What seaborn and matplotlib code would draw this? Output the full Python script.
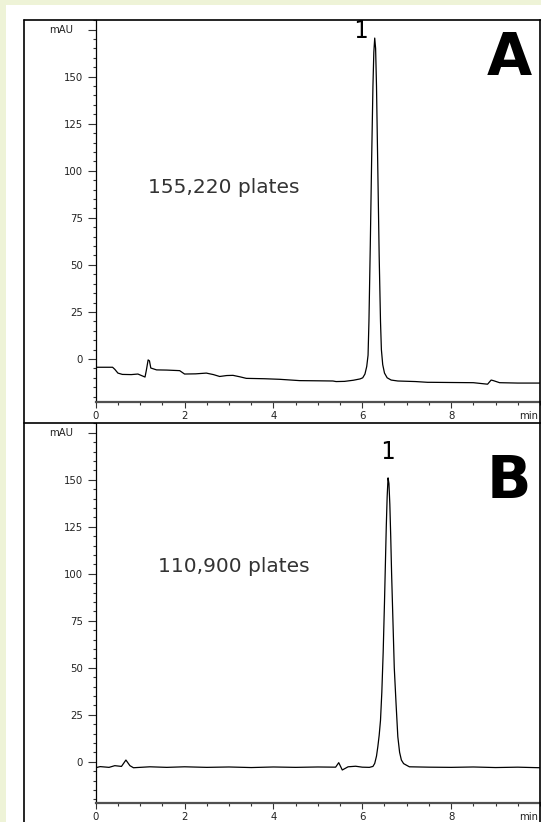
import matplotlib
matplotlib.use("Agg")
import matplotlib.pyplot as plt
import seaborn as sns
import pandas as pd
from matplotlib.ticker import MultipleLocator, FixedLocator, FuncFormatter
from matplotlib.patches import Rectangle
from matplotlib.lines import Line2D

# ---------------- data ----------------
time_a = [0.00, 0.38, 0.43, 0.50, 0.60, 0.80, 0.95, 1.11, 1.14, 1.18, 1.21, 1.24,
          1.37, 1.60, 1.89, 2.00, 2.25, 2.49, 2.65, 2.79, 2.95, 3.09, 3.25, 3.39,
          3.80, 4.14, 4.59, 5.00, 5.34, 5.41, 5.60, 5.80, 5.95, 6.01, 6.06, 6.10,
          6.13, 6.15, 6.18, 6.21, 6.24, 6.26, 6.28, 6.30, 6.32, 6.35, 6.38, 6.41,
          6.43, 6.46, 6.50, 6.56, 6.65, 6.80, 7.20, 7.47, 7.55, 8.00, 8.50, 8.82,
          8.90, 8.95, 9.09, 9.50, 10.00]
signal_a = [-4.4, -4.4, -5.5, -7.5, -8.2, -8.3, -8.0, -9.6, -6.0, -0.5, -1.0, -4.8,
            -5.8, -5.9, -6.2, -8.0, -7.9, -7.5, -8.3, -9.3, -8.8, -8.7, -9.5, -10.3,
            -10.5, -10.8, -11.5, -11.6, -11.7, -12.0, -11.9, -11.3, -10.6, -10.0, -8.0, -4.0,
            2.0, 20.0, 60.0, 105.0, 145.0, 163.0, 170.5, 165.0, 145.0, 100.0, 55.0, 20.0,
            5.0, -3.0, -7.5, -10.0, -11.2, -11.7, -12.0, -12.4, -12.4, -12.5, -12.6, -13.4,
            -11.2, -11.5, -12.6, -12.8, -12.8]

time_b = [0.00, 0.10, 0.30, 0.43, 0.58, 0.68, 0.77, 0.85, 1.22, 1.60, 2.00, 2.50,
          3.00, 3.50, 4.00, 4.50, 5.00, 5.40, 5.47, 5.55, 5.68, 5.85, 6.00, 6.16,
          6.24, 6.28, 6.32, 6.35, 6.38, 6.41, 6.44, 6.47, 6.50, 6.52, 6.54, 6.56,
          6.58, 6.60, 6.62, 6.64, 6.66, 6.69, 6.72, 6.76, 6.80, 6.84, 6.88, 6.93,
          6.99, 7.06, 7.50, 8.00, 8.50, 9.00, 9.50, 10.00]
signal_b = [-3.2, -2.6, -3.0, -2.1, -2.5, 0.9, -2.1, -3.2, -2.7, -3.0, -2.7, -3.0,
            -2.8, -3.1, -2.8, -3.0, -2.8, -2.9, -0.5, -4.4, -2.7, -2.4, -2.9, -3.0,
            -2.5, -0.9, 3.0, 8.0, 14.0, 22.0, 37.0, 58.0, 85.0, 105.0, 125.0, 141.0,
            151.0, 148.0, 137.0, 120.0, 100.0, 75.0, 50.0, 31.0, 13.3, 5.0, 0.9, -1.0,
            -1.8, -2.7, -2.9, -3.0, -2.8, -3.1, -2.9, -3.2]

y_ticks = [0, 25, 50, 75, 100, 125, 150, 175]
x_ticks = [0, 2, 4, 6, 8]
panel_letters = ["A", "B"]
plate_labels = ["155,220 plates", "110,900 plates"]
peak_label = "1"

# ---------------- figure ----------------
sns.set_style("white")
plt.rcParams["font.family"] = ["DejaVu Sans"]

W, H = 541, 822
fig = plt.figure(figsize=(W / 100, H / 100), dpi=100, facecolor="#eef3d7")
fig.patches.append(Rectangle((6 / W, 0), 1 - 6 / W, 1 - 5 / H,
                             transform=fig.transFigure, facecolor="white",
                             edgecolor="none", zorder=-10))

def fx(px):
    return px / W

def fy(py):
    return 1 - py / H

axes_specs = [
    dict(top=20, bottom=401.7, ylim=(-22.7, 180.1), t=time_a, s=signal_a,
         plate_xy=(1.18, 91), peak_xy=(6.12, 170.5), letter_base=75),
    dict(top=423, bottom=802.7, ylim=(-21.8, 180.2), t=time_b, s=signal_b,
         plate_xy=(1.40, 104), peak_xy=(6.56, 161), letter_base=498),
]

for i, spec in enumerate(axes_specs):
    left, right = 95.7, 540
    ax = fig.add_axes([fx(left), fy(spec["bottom"]), fx(right) - fx(left),
                       (spec["bottom"] - spec["top"]) / H])
    ax.set_facecolor("none")
    df = pd.DataFrame({"time": spec["t"], "signal": spec["s"]})
    sns.lineplot(data=df, x="time", y="signal", ax=ax, color="black",
                 linewidth=0.9, estimator=None, sort=False)
    ax.set_xlim(0, 10)
    ax.set_ylim(*spec["ylim"])
    ax.set_xlabel("")
    ax.set_ylabel("")

    for side in ["top", "right"]:
        ax.spines[side].set_visible(False)
    ax.spines["left"].set_color("black")
    ax.spines["left"].set_linewidth(0.9)
    ax.spines["bottom"].set_color("#505050")
    ax.spines["bottom"].set_linewidth(1.6)

    ax.xaxis.set_major_locator(FixedLocator(x_ticks))
    ax.xaxis.set_minor_locator(MultipleLocator(0.5))
    ax.yaxis.set_major_locator(FixedLocator(y_ticks))
    ax.yaxis.set_minor_locator(MultipleLocator(5))
    ax.yaxis.set_major_formatter(FuncFormatter(
        lambda v, p: "" if v >= 175 else f"{v:g}"))
    ax.tick_params(axis="y", which="major", direction="out", length=5.5,
                   width=0.8, color="#333333", labelsize=7.3,
                   labelcolor="#222222", pad=3.6, left=True)
    ax.tick_params(axis="y", which="minor", direction="out", length=2.2,
                   width=0.8, color="#333333", left=True)
    ax.tick_params(axis="x", which="major", direction="out", length=4,
                   width=0.8, color="#333333", labelsize=7.3,
                   labelcolor="#222222", pad=3, bottom=True)
    ax.tick_params(axis="x", which="minor", direction="out", length=2.4,
                   width=0.8, color="#333333", bottom=True)

    # mAU label at the top tick
    ax.text((72.7 - left) / (right - left), 175, "mAU",
            transform=ax.get_yaxis_transform(), ha="right", va="center",
            fontsize=7.3, color="#222222")
    # "min" at right end of x axis, aligned with tick labels
    ax.annotate("min", xy=(10, 0), xycoords=ax.get_xaxis_transform(),
                xytext=(-1, -7), textcoords="offset points",
                ha="right", va="top", fontsize=7.3, color="#222222",
                annotation_clip=False)

    ax.text(spec["plate_xy"][0], spec["plate_xy"][1], plate_labels[i],
            ha="left", va="center", fontsize=14.5, color="#333333")
    ax.text(spec["peak_xy"][0], spec["peak_xy"][1], peak_label,
            ha="right" if i == 0 else "center", va="baseline",
            fontsize=17, family="DejaVu Sans Mono", color="black")

    fig.text(fx(509), fy(spec["letter_base"]), panel_letters[i],
             ha="center", va="baseline", fontsize=42, fontweight="bold",
             color="black")

# frame lines
frame_kw = dict(color="black", linewidth=1.2, transform=fig.transFigure)
fig.add_artist(Line2D([fx(24), fx(24)], [0, fy(20)], **frame_kw))
fig.add_artist(Line2D([fx(24), fx(540.5)], [fy(20), fy(20)], **frame_kw))
fig.add_artist(Line2D([fx(24), fx(540.5)], [fy(423), fy(423)], **frame_kw))
fig.add_artist(Line2D([fx(540.3), fx(540.3)], [0, fy(20)], **frame_kw))

fig.savefig("out.png", dpi=100, facecolor=fig.get_facecolor())
